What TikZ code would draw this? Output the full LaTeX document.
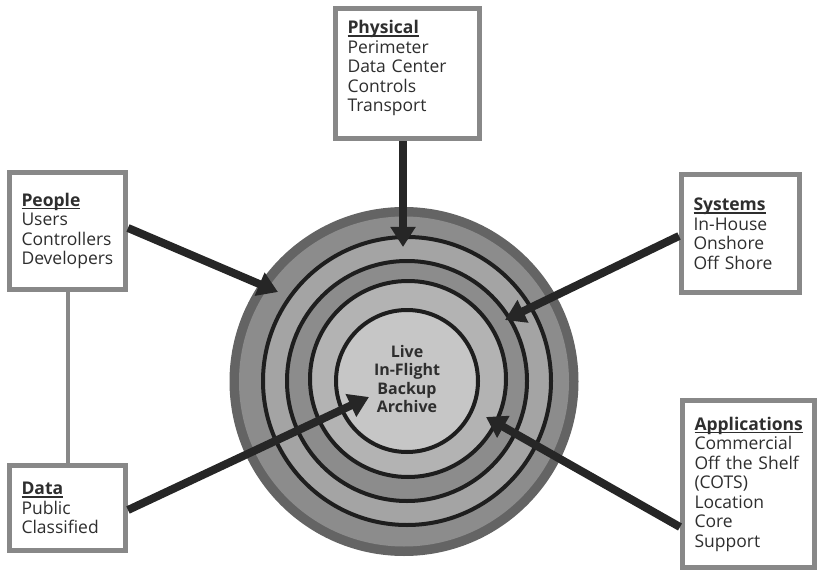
\documentclass[tikz,border=0pt]{standalone}
\usepackage{fontspec}
\setmainfont{Open Sans}
\usetikzlibrary{arrows.meta}

\definecolor{bandDark}{HTML}{646464}
\definecolor{bandMid}{HTML}{8C8C8C}
\definecolor{bandLight}{HTML}{A4A4A4}
\definecolor{bandPale}{HTML}{B3B3B3}
\definecolor{coreFill}{HTML}{C6C6C6}
\definecolor{ringLine}{HTML}{1E1E1E}
\definecolor{boxGray}{HTML}{888888}
\definecolor{arrowInk}{HTML}{262626}
\definecolor{textInk}{HTML}{2E2E2E}

% bold heading with a heavier rule beneath it
\newcommand\boxhead[1]{\setbox0\hbox{\textbf{#1}}\rlap{\rule[-3pt]{\wd0}{1.4pt}}\box0}

\begin{document}
\begin{tikzpicture}[x=1pt,y=-1pt,
  infobox/.style={draw=boxGray, line width=5pt, fill=white, inner xsep=0pt, inner ysep=0pt,
    align=left, text=textInk, font=\fontsize{17.5}{19.5}\selectfont},
  bigarrow/.style={draw=arrowInk, line width=8pt, -{Triangle[length=20pt,width=24pt]}},
  ringcircle/.style={draw=ringLine, line width=4pt}
]
\useasboundingbox (0,0) rectangle (819,572);

% concentric layers
\fill[bandDark] (404,381.5) circle[radius=174.5pt];
\fill[bandMid] (404,381.5) circle[radius=165pt];
\filldraw[ringcircle, fill=bandLight] (407,381) circle[radius=144pt];
\filldraw[ringcircle, fill=bandMid] (407,381) circle[radius=120pt];
\filldraw[ringcircle, fill=bandPale] (408,379) circle[radius=98pt];
\filldraw[ringcircle, fill=coreFill] (407,381) circle[radius=71pt];

\node[align=center, text=textInk, font=\bfseries\fontsize{16}{18.3}\selectfont] (core) at (407,379)
  {Live\\In-Flight\\Backup\\Archive};

% surrounding boxes
\node[infobox, minimum width=144pt, minimum height=130pt, text width=120pt, text depth=94pt] (phys) at (407.5,74)
  {\boxhead{Physical}\\Perimeter\\Data Center\\Controls\\Transport};
\node[infobox, minimum width=116pt, minimum height=117pt, text width=92pt] (people) at (67.5,231)
  {\boxhead{People}\\Users\\Controllers\\Developers};
\node[infobox, minimum width=118pt, minimum height=118pt, text width=94pt] (sys) at (740.5,233.5)
  {\boxhead{Systems}\\In-House\\Onshore\\Off Shore};
\node[infobox, minimum width=132pt, minimum height=167pt, text width=108pt] (apps) at (748.5,484)
  {\boxhead{Applications}\\Commercial\\Off the Shelf\\(COTS)\\Location\\Core\\Support};
\node[infobox, minimum width=116pt, minimum height=85pt, text width=92pt] (data) at (67.5,508)
  {\boxhead{Data}\\Public\\Classified};

\draw[boxGray, line width=4pt] (people.south) -- (data.north);

% arrow tips inside the rings
\coordinate (tipPhys) at (403,247);
\coordinate (tipPeople) at (278,292);
\coordinate (tipSys) at (505,320);
\coordinate (tipApps) at (486,417);
\coordinate (tipData) at (369,397);

\draw[bigarrow] ([xshift=-4.5pt]phys.south) -- (tipPhys);
\draw[bigarrow] ([yshift=3pt]people.east) -- (tipPeople);
\draw[bigarrow] ([yshift=-2.5pt]sys.west) -- (tipSys);
\draw[bigarrow] ([yshift=-43pt]apps.west) -- (tipApps);
\draw[bigarrow] ([yshift=-2pt]data.east) -- (tipData);
\end{tikzpicture}
\end{document}
